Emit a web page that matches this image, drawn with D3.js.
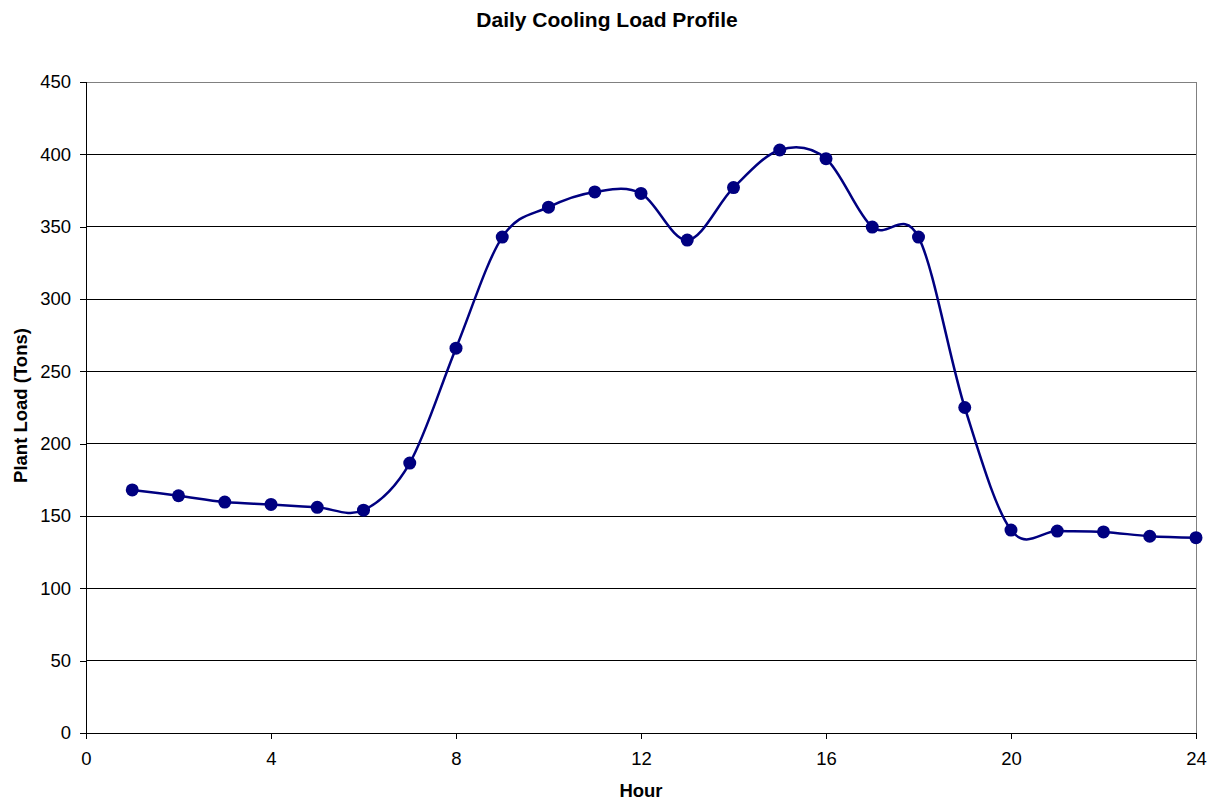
<!DOCTYPE html>
<html><head><meta charset="utf-8">
<script src="https://cdn.jsdelivr.net/npm/d3@7"></script>
<style>body{margin:0;background:#fff}svg{display:block;font-family:"Liberation Sans",Arial,sans-serif}</style>
</head><body><svg id="c" width="1211" height="801"></svg>
<script>
const hours = [1,2,3,4,5,6,7,8,9,10,11,12,13,14,15,16,17,18,19,20,21,22,23,24];
const loads = [168,164,159.6,158,156,154,186.6,266,342.8,363.5,374,373,340.7,377,403,397,349.7,342.8,225,140.3,139.6,139,136,135];
const xTicks = [0,4,8,12,16,20,24];
const yTicks = [0,50,100,150,200,250,300,350,400,450];

const svg = d3.select("#c");
const L=86, R=1196, T=82, B=733;
const x = d3.scaleLinear().domain([0,24]).range([L,R]);
const y = d3.scaleLinear().domain([0,450]).range([B,T]);

// gridlines
svg.append("g").selectAll("line").data(yTicks.filter(d=>d>0)).join("line")
  .attr("x1",L).attr("x2",R).attr("y1",d=>y(d)).attr("y2",d=>y(d))
  .attr("stroke",d=>d===450?"#808080":"#000").attr("stroke-width",1).attr("shape-rendering","crispEdges");
// right border
svg.append("line").attr("x1",R).attr("x2",R).attr("y1",T).attr("y2",B)
  .attr("stroke","#808080").attr("shape-rendering","crispEdges");

const xa = svg.append("g").attr("transform",`translate(0,${B})`)
  .call(d3.axisBottom(x).tickValues(xTicks).tickSize(6).tickPadding(13).tickFormat(d3.format("d")));
const ya = svg.append("g").attr("transform",`translate(${L},0)`)
  .call(d3.axisLeft(y).tickValues(yTicks).tickSize(6).tickPadding(9).tickFormat(d3.format("d")));
[xa,ya].forEach(a=>{
  a.select(".domain").attr("stroke","#000").attr("shape-rendering","crispEdges");
  a.selectAll(".tick line").attr("stroke","#000").attr("shape-rendering","crispEdges");
  a.selectAll("text").attr("font-size",18.5).attr("fill","#000").attr("font-family","Liberation Sans, Arial, sans-serif");
});

const line = d3.line().x((d,i)=>x(hours[i])).y(d=>y(d)).curve(d3.curveCatmullRom.alpha(0));
svg.append("path").datum(loads).attr("d",line).attr("fill","none")
  .attr("stroke","#000080").attr("stroke-width",2.5);
svg.append("g").selectAll("circle").data(loads).join("circle")
  .attr("cx",(d,i)=>x(hours[i])).attr("cy",d=>y(d)).attr("r",6.5).attr("fill","#000080");

svg.append("text").attr("x",607).attr("y",27).attr("text-anchor","middle")
  .attr("font-size",21).attr("font-weight","bold").text("Daily Cooling Load Profile");
svg.append("text").attr("x",(L+R)/2).attr("y",797).attr("text-anchor","middle")
  .attr("font-size",18.5).attr("font-weight","bold").text("Hour");
svg.append("text").attr("transform",`translate(27,405.5) rotate(-90)`).attr("text-anchor","middle")
  .attr("font-size",18.5).attr("font-weight","bold").text("Plant Load (Tons)");
</script></body></html>
